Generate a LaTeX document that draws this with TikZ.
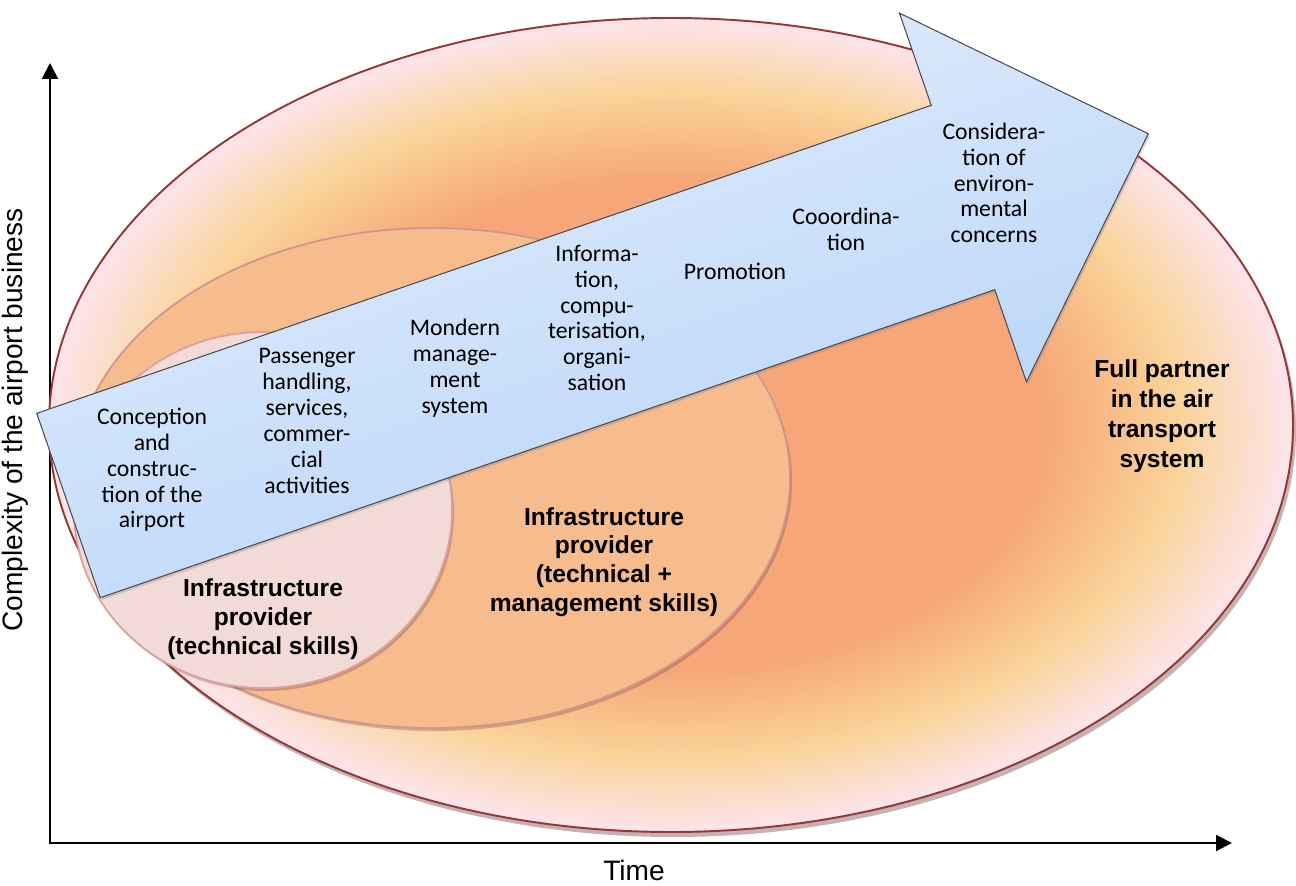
\documentclass[tikz,border=0pt]{standalone}
\usepackage{fontspec}
\setmainfont{Liberation Sans}
\newfontfamily\stagefont{Carlito}
\usepackage{tikz}
\usetikzlibrary{arrows.meta}
\usetikzlibrary{shadows}

\definecolor{ringred}{HTML}{953735}
\definecolor{ringsalmon}{HTML}{F6A679}
\definecolor{ringyellow}{HTML}{FAD49A}
\definecolor{ringpink}{HTML}{FCE4EC}
\definecolor{midfill}{HTML}{F7BC8D}
\definecolor{midline}{HTML}{CF9590}
\definecolor{smallfill}{HTML}{F2DAD7}
\definecolor{smallline}{HTML}{D9A29E}
\definecolor{arrowtop}{HTML}{E6F0FD}
\definecolor{arrowbottom}{HTML}{B4D1F8}

\pgfdeclareradialshading{partnerring}{\pgfpoint{0bp}{0bp}}{%
  color(0bp)=(ringsalmon); color(15bp)=(ringsalmon);
  color(20.5bp)=(ringyellow); color(25bp)=(ringpink); color(50bp)=(ringpink)}

\begin{document}
\begin{tikzpicture}[
            x = 0.02cm,
            y = -0.02cm,
            axis/.style = {
                line width = 1.2pt,
                {Triangle[length=9pt, width=9pt]}-{Triangle[length=9pt, width=9pt]}
            },
            axislabel/.style = {
                font = \fontsize{16}{19}\selectfont,
                inner sep = 0pt
            },
            stage/.style = {
                align = center,
                font = \stagefont\fontsize{13.5}{14.7}\selectfont,
                inner sep = 0pt
            },
            role/.style = {
                align = center,
                font = \bfseries\fontsize{14}{#1}\selectfont,
                inner sep = 0pt
            },
            role/.default = 16.4,
            ringshadow/.style = {
                fill = ringred!60!black,
                opacity = 0.35
            },
            arrowbody/.style = {
                top color = arrowtop,
                bottom color = arrowbottom,
                shading angle = 19,
                draw = black!70,
                line width = 0.6pt,
                drop shadow = {shadow xshift=1pt, shadow yshift=-1.3pt, opacity=0.3}
            }
            ]
            \useasboundingbox (0,0) rectangle (1296,886);

            \coordinate (origin) at (50,843);
            \coordinate (ytop) at (50,63);
            \coordinate (xend) at (1232,843);
            \draw[axis] (ytop) -- (origin) -- (xend);
            \node[axislabel] (time) at (634,870) {Time};
            \node[axislabel, rotate=90] (complexity) at (15,420) {Complexity of the airport business};

            \fill[ringshadow] (674,430) ellipse [x radius=622, y radius=407];
            \shadedraw[shading=partnerring, draw=ringred, line width=1.1pt]
                (671,425) ellipse [x radius=622, y radius=407];

            \fill[ringshadow, opacity=0.25] (434,481) ellipse [x radius=358, y radius=250];
            \filldraw[fill=midfill, draw=midline, line width=1pt]
                (432,478) ellipse [x radius=358, y radius=250];

            \fill[ringshadow, opacity=0.25] (265,513) ellipse [x radius=189, y radius=178];
            \filldraw[fill=smallfill, draw=smallline, line width=1pt]
                (263,510) ellipse [x radius=189, y radius=178];

            \begin{scope}[shift={(68.5,505.5)}, rotate=19]
                \path[arrowbody] (0,-97.5) -- (946,-97.5) -- (946,-195) -- (1142,0)
                    -- (946,195) -- (946,97.5) -- (0,97.5) -- cycle;
            \end{scope}

            \node[stage] (conception) at (152,470) {Conception\\and\\construc-\\tion of the\\airport};
            \node[stage] (passenger) at (307,421) {Passenger\\handling,\\services,\\commer-\\cial\\activities};
            \node[stage] (management) at (455,368) {Mondern\\manage-\\ment\\system};
            \node[stage] (information) at (597,318) {Informa-\\tion,\\compu-\\terisation,\\organi-\\sation};
            \node[stage] (promotion) at (735,271) {Promotion};
            \node[stage] (coordination) at (846,229) {Cooordina-\\tion};
            \node[stage] (environment) at (994,183) {Considera-\\tion of\\environ-\\mental\\concerns};

            \node[role] (technical) at (263,619) {Infrastructure\\provider\\(technical skills)};
            \node[role] (provider) at (604,562) {Infrastructure\\provider\\(technical +\\management skills)};
            \node[role=17] (partner) at (1162,416) {Full partner\\in the air\\transport\\system};
        \end{tikzpicture}
\end{document}
